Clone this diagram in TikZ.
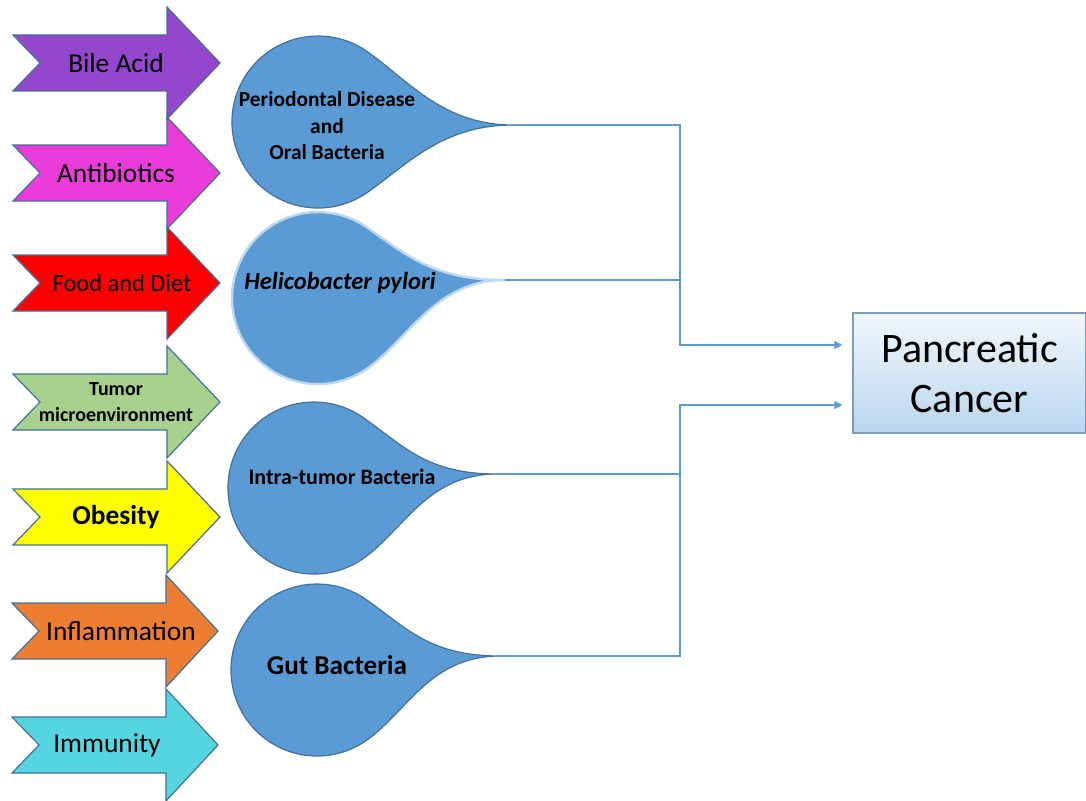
\documentclass[tikz,border=0pt]{standalone}
\usepackage{fontspec}
\setmainfont{Carlito}
\usetikzlibrary{arrows.meta}
\definecolor{outl}{HTML}{41719C}
\definecolor{dropblue}{HTML}{5B9BD5}
\definecolor{droprim}{HTML}{BDD7EE}
\definecolor{bileC}{HTML}{9446CC}
\definecolor{antiC}{HTML}{EA3CD8}
\definecolor{foodC}{HTML}{FF0000}
\definecolor{tumorC}{HTML}{A9D18E}
\definecolor{obesC}{HTML}{FFFF00}
\definecolor{inflC}{HTML}{ED7D31}
\definecolor{immC}{HTML}{55D5E0}
\definecolor{boxtop}{HTML}{F1F7FC}
\definecolor{boxbot}{HTML}{B9D6EF}
\definecolor{boxline}{HTML}{7F9DB9}

\begin{document}
\begin{tikzpicture}[x=0.5pt,y=0.5pt,
  factor/.style={draw=outl, line width=0.6pt, line join=miter},
  flabel/.style={font=\fontsize{13.7}{16}\selectfont, align=center},
  drop/.style={fill=dropblue, draw=outl, line width=0.6pt},
  dlabel/.style={font=\bfseries\fontsize{11}{13.25}\selectfont, align=center},
  conn/.style={draw=dropblue, line width=0.6pt}]
  \useasboundingbox (0,0) rectangle (1086,800);

  % factor arrows
  \draw[factor,fill=bileC] (13,765) -- (167,765) -- (167,793) -- (220,737) -- (167,681) -- (167,709) -- (13,709) -- (40,737) -- cycle;
  \node[flabel] (bile) at (116,737) {Bile Acid};
  \draw[factor,fill=antiC] (13,655) -- (167,655) -- (167,683) -- (220,627) -- (167,571) -- (167,599) -- (13,599) -- (40,627) -- cycle;
  \node[flabel] (anti) at (116,627) {Antibiotics};
  \draw[factor,fill=foodC] (13,545) -- (167,545) -- (167,573) -- (220,517) -- (167,461) -- (167,489) -- (13,489) -- (40,517) -- cycle;
  \node[flabel,font=\fontsize{12.2}{14}\selectfont] (food) at (122,517) {Food and Diet};
  \draw[factor,fill=tumorC] (13,426) -- (167,426) -- (167,454) -- (220,398) -- (167,342) -- (167,370) -- (13,370) -- (40,398) -- cycle;
  \node[flabel,font=\bfseries\fontsize{10}{13}\selectfont] (tumor) at (116,398) {Tumor\\microenvironment};
  \draw[factor,fill=obesC] (13,311) -- (167,311) -- (167,339) -- (220,283) -- (167,227) -- (167,255) -- (13,255) -- (40,283) -- cycle;
  \node[flabel,font=\bfseries\fontsize{13.7}{16}\selectfont] (obes) at (116,283) {Obesity};
  \draw[factor,fill=inflC] (12,197) -- (166,197) -- (166,225) -- (218,169) -- (166,113) -- (166,141) -- (12,141) -- (39,169) -- cycle;
  \node[flabel] (infl) at (121,169) {Inflammation};
  \draw[factor,fill=immC] (12,83) -- (166,83) -- (166,111) -- (218,55) -- (166,-1) -- (166,27) -- (12,27) -- (39,55) -- cycle;
  \node[flabel] (imm) at (107,55) {Immunity};

  % drops
  \coordinate (t1) at (513,675);
  \coordinate (t2) at (505,520);
  \coordinate (t3) at (497,326);
  \coordinate (t4) at (500,144);
  \draw[drop] (t1) .. controls +(-70,0) and +(41,-29) .. (367.3,748.4)
    arc[start angle=55,end angle=305,radius=86] .. controls +(41,29) and +(-70,0) .. (t1);
  \draw[drop,draw=droprim,line width=1.2pt] (t2) .. controls +(-70,0) and +(41,-29) .. (367.3,572.4)
    arc[start angle=55,end angle=305,radius=86] .. controls +(41,29) and +(-70,0) .. (t2);
  \draw[drop] (t3) .. controls +(-70,0) and +(41,-29) .. (363.3,382.4)
    arc[start angle=55,end angle=305,radius=86] .. controls +(41,29) and +(-70,0) .. (t3);
  \draw[drop] (t4) .. controls +(-70,0) and +(41,-29) .. (366.3,200.4)
    arc[start angle=55,end angle=305,radius=86] .. controls +(41,29) and +(-70,0) .. (t4);
  \node[dlabel,font=\bfseries\fontsize{10.7}{13.25}\selectfont] (perio) at (327,674) {Periodontal Disease\\and\\Oral Bacteria};
  \node[dlabel,font=\bfseries\itshape\fontsize{12.3}{14}\selectfont] (hpyl) at (340,517) {Helicobacter pylori};
  \node[dlabel] (intra) at (342,323) {Intra-tumor Bacteria};
  \node[dlabel,font=\bfseries\fontsize{13.6}{16}\selectfont] (gut) at (337,135) {Gut Bacteria};

  % target
  \node[draw=boxline, line width=0.6pt, top color=boxtop, bottom color=boxbot,
    minimum width=116.5pt, minimum height=60pt, inner sep=0pt,
    font=\fontsize{21}{25}\selectfont, align=center] (pc) at (969.5,427) {Pancreatic\\Cancer};

  % connectors
  \coordinate (j1) at (680,455);
  \coordinate (j2) at (680,395);
  \draw[conn,-{Triangle[length=4pt,width=4pt]},shorten >=5pt] (t1) -| (j1) -- (j1 -| pc.west);
  \draw[conn] (t2) -- (t2 -| j1);
  \draw[conn,-{Triangle[length=4pt,width=4pt]},shorten >=5pt] (t4) -| (j2) -- (j2 -| pc.west);
  \draw[conn] (t3) -- (t3 -| j2);
\end{tikzpicture}
\end{document}
